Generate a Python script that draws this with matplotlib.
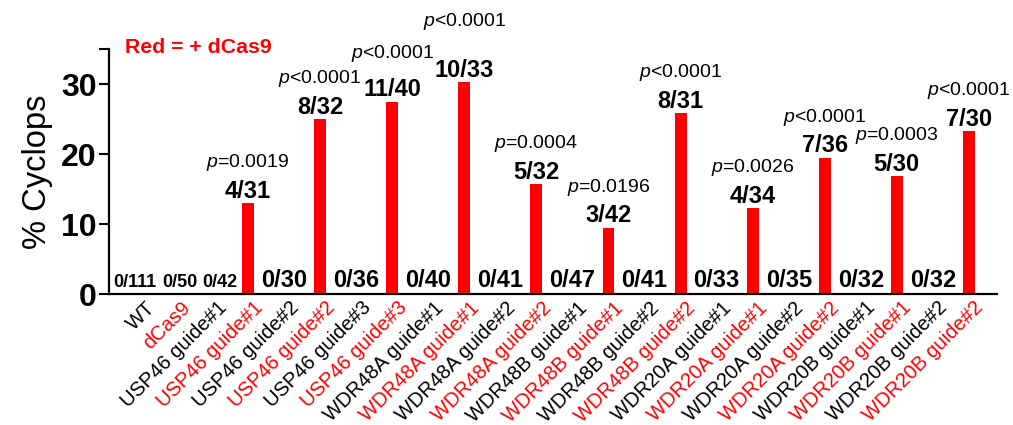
import matplotlib
matplotlib.use("Agg")
import matplotlib.pyplot as plt
from matplotlib.transforms import ScaledTranslation

plt.rcParams['font.family'] = ['Liberation Sans', 'DejaVu Sans']
plt.rcParams['mathtext.fontset'] = 'custom'
plt.rcParams['mathtext.it'] = 'Liberation Sans:italic'
plt.rcParams['mathtext.rm'] = 'Liberation Sans'

categories = ["WT", "dCas9",
              "USP46 guide#1", "USP46 guide#1",
              "USP46 guide#2", "USP46 guide#2",
              "USP46 guide#3", "USP46 guide#3",
              "WDR48A guide#1", "WDR48A guide#1",
              "WDR48A guide#2", "WDR48A guide#2",
              "WDR48B guide#1", "WDR48B guide#1",
              "WDR48B guide#2", "WDR48B guide#2",
              "WDR20A guide#1", "WDR20A guide#1",
              "WDR20A guide#2", "WDR20A guide#2",
              "WDR20B guide#1", "WDR20B guide#1",
              "WDR20B guide#2", "WDR20B guide#2"]
with_dcas9 = [False, True] + [False, True] * 11
percent_cyclops = [0, 0, 0, 13.0, 0, 25.0, 0, 27.5, 0, 30.3, 0, 15.7,
                   0, 9.5, 0, 25.8, 0, 12.3, 0, 19.5, 0, 16.9, 0, 23.3]
counts = ["0/111", "0/50", "0/42", "4/31", "0/30", "8/32", "0/36", "11/40",
          "0/40", "10/33", "0/41", "5/32", "0/47", "3/42", "0/41", "8/31",
          "0/33", "4/34", "0/35", "7/36", "0/32", "5/30", "0/32", "7/30"]
p_values = ["", "", "", "=0.0019", "", "<0.0001", "", "<0.0001",
            "", "<0.0001", "", "=0.0004", "", "=0.0196", "", "<0.0001",
            "", "=0.0026", "", "<0.0001", "", "=0.0003", "", "<0.0001"]

RED = "#ff0000"
fig = plt.figure(figsize=(10.13, 4.25), dpi=100)
ax = fig.add_axes([109 / 1013, 1 - 294 / 425, (997 - 109) / 1013, (294 - 49) / 425])

x = list(range(len(categories)))
ax.bar(x, percent_cyclops, width=0.33, color=RED, zorder=2)

ax.set_xlim(-0.86, 23.78)
ax.set_ylim(0, 35)
for s in ["top", "right"]:
    ax.spines[s].set_visible(False)
for s in ["left", "bottom"]:
    ax.spines[s].set_linewidth(1.6)
ax.set_yticks([0, 10, 20, 30, 35])
ax.set_yticklabels(["0", "10", "20", "30", ""], fontsize=23, fontweight="bold")
ax.tick_params(axis="y", length=7, width=1.5, pad=2)
ax.tick_params(axis="x", length=0, pad=3)
ax.set_xticks(x)
ax.set_xticklabels(categories, rotation=45, ha="right", va="top",
                   rotation_mode="anchor", fontsize=14.5)
shift = ScaledTranslation(5 / 100, 0, fig.dpi_scale_trans)
for lbl, red in zip(ax.get_xticklabels(), with_dcas9):
    lbl.set_color(RED if red else "black")
    lbl.set_transform(lbl.get_transform() + shift)

ax.set_ylabel("% Cyclops", fontsize=23.5, labelpad=6)

# count labels and p-values
zero_dx = {0: -5, 1: 4, 2: 8}
p_extra = {7: 8, 9: 20}
for i, (v, c, p) in enumerate(zip(percent_cyclops, counts, p_values)):
    if v == 0:
        fs = 13 if i < 3 else 17
        ax.annotate(c, (i, 0), xytext=(zero_dx.get(i, 0) * 0.72, 5),
                    textcoords="offset points", ha="center", va="baseline",
                    fontsize=fs, fontweight="bold")
    else:
        ax.annotate(c, (i, v), xytext=(0, 3.6), textcoords="offset points",
                    ha="center", va="baseline", fontsize=17, fontweight="bold")
        if p:
            ax.annotate("$p$" + p, (i, v),
                        xytext=(0, (36 + p_extra.get(i, 0)) * 0.72),
                        textcoords="offset points", ha="center", va="baseline",
                        fontsize=14)

fig.text(125 / 1013, 1 - 53 / 425, "Red = + dCas9", color=RED, fontsize=15.3,
         fontweight="bold", ha="left", va="baseline")

fig.savefig("out.png", dpi=100)
